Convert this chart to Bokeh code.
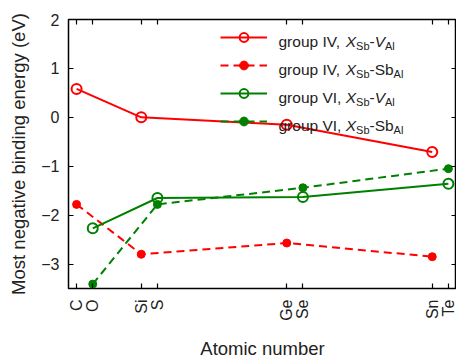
import math
from bokeh.plotting import figure
from bokeh.models import (FixedTicker, LinearAxis, Range1d, Legend, LegendItem, Label)
from bokeh.embed import file_html
from bokeh.resources import INLINE

# ---- data ----
group4_elements = ["C", "Si", "Ge", "Sn"]
group4_z = [6, 14, 32, 50]
group6_elements = ["O", "S", "Se", "Te"]
group6_z = [8, 16, 34, 52]

g4_xsb_val = [0.58, 0.00, -0.15, -0.71]     # group IV, X_Sb - V_Al
g4_xsb_sbal = [-1.78, -2.80, -2.57, -2.85]  # group IV, X_Sb - Sb_Al
g6_xsb_val = [-2.27, -1.65, -1.63, -1.36]   # group VI, X_Sb - V_Al
g6_xsb_sbal = [-3.41, -1.78, -1.44, -1.05]  # group VI, X_Sb - Sb_Al

y_ticks = [-3, -2, -1, 0, 1, 2]
y_tick_labels = ["\u22123", "\u22122", "\u22121", "0", "1", "2"]

# ---- styling ----
RED = "#ff0000"
GREEN = "#008000"
TEXT = "#222222"
FONT = "Liberation Sans"

X0, X1 = 5, 53
Y0, Y1 = -3.5, 2
FW, FH = 388, 269

p = figure(frame_width=FW, frame_height=FH, output_backend="svg", toolbar_location=None,
           x_range=Range1d(X0, X1), y_range=Range1d(Y0, Y1),
           min_border_left=68, min_border_right=0, min_border_top=19, min_border_bottom=70)
p.grid.visible = False
p.outline_line_color = "black"
p.outline_line_width = 1.5
p.background_fill_color = "white"
p.border_fill_color = "white"

all_z = sorted(group4_z + group6_z)
labels_map = {}
for z, e in zip(group4_z, group4_elements):
    labels_map[z] = e
for z, e in zip(group6_z, group6_elements):
    labels_map[z] = e

def style_axis(ax, show_labels=True):
    ax.axis_line_color = None
    ax.major_tick_in = 5
    ax.major_tick_out = 0
    ax.major_tick_line_width = 1.2
    ax.minor_tick_line_color = None
    ax.major_label_text_font = FONT
    ax.major_label_text_color = TEXT
    ax.major_label_text_font_size = "16px"
    ax.axis_label_text_font = FONT
    ax.axis_label_text_font_style = "normal"
    ax.axis_label_text_color = TEXT
    ax.axis_label_text_font_size = "18.5px"
    if not show_labels:
        ax.major_label_text_font_size = "0px"
        ax.major_label_text_color = None
        ax.major_label_standoff = 0

xb = p.xaxis[0]
xb.ticker = FixedTicker(ticks=all_z)
xb.major_label_overrides = {z: labels_map[z] for z in all_z}
xb.major_label_orientation = math.pi / 2
xb.axis_label = "Atomic number"
style_axis(xb)
xb.major_label_standoff = 11
xb.axis_label_standoff = 14

yl = p.yaxis[0]
yl.ticker = FixedTicker(ticks=y_ticks)
yl.major_label_overrides = {t: s for t, s in zip(y_ticks, y_tick_labels)}
yl.axis_label = "Most negative binding energy (eV)"
style_axis(yl)
yl.major_label_standoff = 9
yl.axis_label_standoff = 9

xt = LinearAxis(ticker=FixedTicker(ticks=all_z))
style_axis(xt, show_labels=False)
p.add_layout(xt, "above")
yr = LinearAxis(ticker=FixedTicker(ticks=y_ticks))
style_axis(yr, show_labels=False)
p.add_layout(yr, "right")

# ---- data series ----
r1l = p.line(group4_z, g4_xsb_val, line_color=RED, line_width=2)
r1m = p.scatter(group4_z, g4_xsb_val, marker="circle", size=10, line_color=RED, line_width=2, fill_color=None)
r2l = p.line(group4_z, g4_xsb_sbal, line_color=RED, line_width=2, line_dash="8 5")
r2m = p.scatter(group4_z, g4_xsb_sbal, marker="circle", size=8, line_color=RED, fill_color=RED)
r3l = p.line(group6_z, g6_xsb_val, line_color=GREEN, line_width=2)
r3m = p.scatter(group6_z, g6_xsb_val, marker="circle", size=10, line_color=GREEN, line_width=2, fill_color=None)
r4l = p.line(group6_z, g6_xsb_sbal, line_color=GREEN, line_width=2, line_dash="8 5")
r4m = p.scatter(group6_z, g6_xsb_sbal, marker="circle", size=8, line_color=GREEN, fill_color=GREEN)

# ---- legend swatches ----
GLYPH_H = 22
GAP = 6
PITCH = GLYPH_H + GAP
LEG_X = 152           # px from frame left
LEG_TOP = 6.5         # px from frame top
GLYPH_W = 47
LEG_H = 4 * GLYPH_H + 3 * GAP
legend = Legend(items=[LegendItem(label="", renderers=[r1l, r1m]),
                       LegendItem(label="", renderers=[r2l, r2m]),
                       LegendItem(label="", renderers=[r3l, r3m]),
                       LegendItem(label="", renderers=[r4l, r4m])],
                location=(LEG_X, FH - LEG_TOP - LEG_H),
                glyph_width=GLYPH_W, glyph_height=GLYPH_H, spacing=GAP, padding=0, margin=0,
                label_standoff=0, label_width=0, label_height=GLYPH_H,
                label_text_color=None, label_text_font_size="1px",
                border_line_color=None, background_fill_alpha=0)
p.add_layout(legend)

# ---- legend texts (with italics and subscripts) ----
EM = {"g": .556, "r": .333, "o": .556, "u": .556, "p": .556, " ": .278, "I": .278,
      "V": .667, ",": .278, "X": .667, "S": .667, "b": .556, "-": .333, "A": .667, "l": .222}

def text_width(s, size):
    return sum(EM[c] for c in s) * size

sx = FW / (X1 - X0)
sy = FH / (Y1 - Y0)
MAIN, SUB = 15.5, 11

legend_texts = [
    [("group IV, ", "normal", MAIN, 0), ("X", "italic", MAIN, 0), ("Sb", "normal", SUB, 1),
     ("-", "normal", MAIN, 0), ("V", "italic", MAIN, 0), ("Al", "normal", SUB, 1)],
    [("group IV, ", "normal", MAIN, 0), ("X", "italic", MAIN, 0), ("Sb", "normal", SUB, 1),
     ("-", "normal", MAIN, 0), ("Sb", "normal", MAIN, 0), ("Al", "normal", SUB, 1)],
    [("group VI, ", "normal", MAIN, 0), ("X", "italic", MAIN, 0), ("Sb", "normal", SUB, 1),
     ("-", "normal", MAIN, 0), ("V", "italic", MAIN, 0), ("Al", "normal", SUB, 1)],
    [("group VI, ", "normal", MAIN, 0), ("X", "italic", MAIN, 0), ("Sb", "normal", SUB, 1),
     ("-", "normal", MAIN, 0), ("Sb", "normal", MAIN, 0), ("Al", "normal", SUB, 1)],
]

for i, parts in enumerate(legend_texts):
    cx = LEG_X + GLYPH_W + 11
    cy = LEG_TOP + PITCH * i + GLYPH_H / 2
    for s, style, size, sub in parts:
        base = cy + 4.5 + (4.5 if sub else 0)
        p.add_layout(Label(x=X0 + cx / sx, y=Y1 - base / sy, text=s,
                           text_font=FONT, text_font_style=style,
                           text_font_size=f"{size}px", text_color=TEXT,
                           text_align="left", text_baseline="alphabetic"))
        cx += text_width(s, size)

open("out.html", "w").write(file_html(p, INLINE))
